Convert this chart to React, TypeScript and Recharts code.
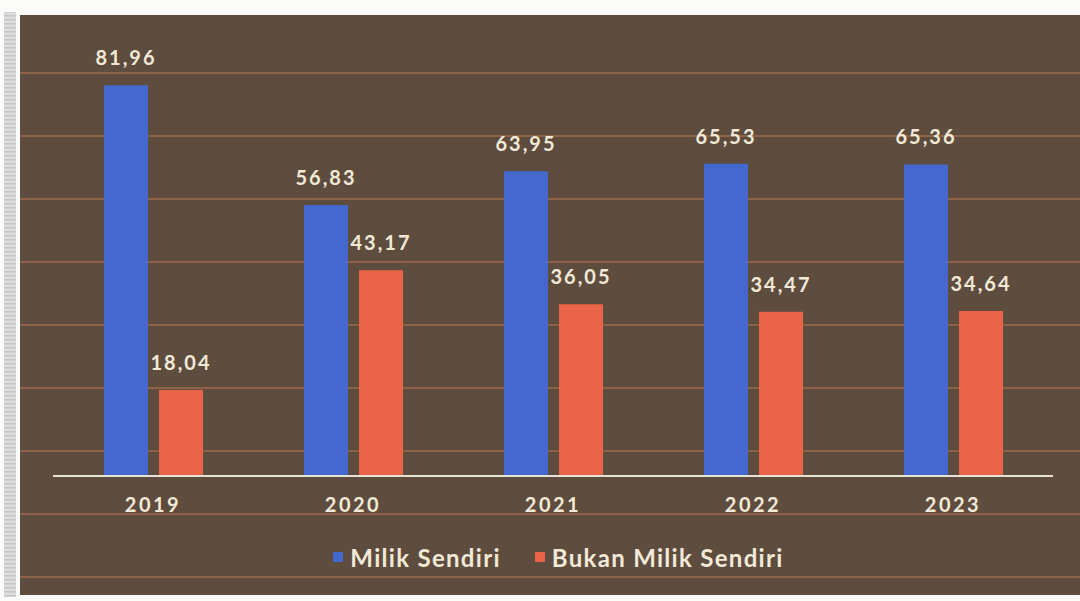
import React from 'react';
import { Bar, BarChart, LabelList, Legend, XAxis, YAxis } from 'recharts';

const years = ['2019', '2020', '2021', '2022', '2023'];
const milikSendiri = [81.96, 56.83, 63.95, 65.53, 65.36];
const bukanMilikSendiri = [18.04, 43.17, 36.05, 34.47, 34.64];

const data = years.map((year, i) => ({
  year,
  milik: milikSendiri[i],
  bukan: bukanMilikSendiri[i],
}));

const BLUE = '#4468cd';
const RED = '#ea644a';
const CREAM = '#f2e9d6';
const FONT = 'Lato, "Open Sans", sans-serif';

const fmt = (v: any) => Number(v).toFixed(2).replace('.', ',');

function LegendContent() {
  const items = [
    { label: 'Milik Sendiri', color: BLUE },
    { label: 'Bukan Milik Sendiri', color: RED },
  ];
  return (
    <div
      style={{
        display: 'flex',
        justifyContent: 'center',
        alignItems: 'center',
        height: 30,
        gap: 34,
        paddingLeft: 17,
        fontFamily: FONT,
        fontWeight: 700,
        fontSize: 24,
        letterSpacing: 1.3,
        color: CREAM,
      }}
    >
      {items.map((it) => (
        <div key={it.label} style={{ display: 'flex', alignItems: 'center' }}>
          <span
            style={{
              display: 'inline-block',
              width: 10,
              height: 10,
              background: it.color,
              marginRight: 7,
            }}
          />
          <span>{it.label}</span>
        </div>
      ))}
    </div>
  );
}

export default function App() {
  return (
    <div
      style={{
        position: 'absolute',
        left: 0,
        top: 0,
        width: 1080,
        height: 601,
        background: '#fbfbfa',
        overflow: 'hidden',
      }}
    >
      <div
        style={{
          position: 'absolute',
          left: 4,
          top: 12,
          width: 12,
          height: 585,
          background: 'repeating-linear-gradient(to bottom, #c9c9c9 0px, #e6e6e6 2px, #bdbdbd 4px)',
        }}
      />
      <div
        style={{
          position: 'absolute',
          left: 20,
          top: 15,
          width: 1060,
          height: 580,
          backgroundColor: '#5e4c3f',
          backgroundImage:
            'repeating-linear-gradient(to bottom, transparent 0px, transparent 57px, #8f6146 57px, #8f6146 59px, transparent 59px, transparent 63px)',
        }}
      >
        <BarChart
          width={1060}
          height={580}
          data={data}
          margin={{ top: 32, right: 27, bottom: 79, left: 33 }}
          barSize={44}
          barGap={11}
        >
          <XAxis
            dataKey="year"
            height={40}
            axisLine={{ stroke: '#e9e3d6', strokeWidth: 2 }}
            tickLine={false}
            tickSize={0}
            tickMargin={22}
            tick={{ fill: CREAM, fontSize: 20, fontFamily: FONT, fontWeight: 700, letterSpacing: 2.5 }}
          />
          <YAxis hide domain={[0, 90]} />
          <Legend
            layout="horizontal"
            verticalAlign="middle"
            align="center"
            content={<LegendContent />}
            wrapperStyle={{ top: 527, left: 0, width: 1060, height: 30 }}
          />
          <Bar dataKey="milik" name="Milik Sendiri" fill={BLUE} isAnimationActive={false}>
            <LabelList
              dataKey="milik"
              position="top"
              offset={20}
              formatter={fmt}
              fill={CREAM}
              fontSize={20}
              fontFamily={FONT}
              fontWeight={700}
              letterSpacing={2}
            />
          </Bar>
          <Bar dataKey="bukan" name="Bukan Milik Sendiri" fill={RED} isAnimationActive={false}>
            <LabelList
              dataKey="bukan"
              position="top"
              offset={20}
              formatter={fmt}
              fill={CREAM}
              fontSize={20}
              fontFamily={FONT}
              fontWeight={700}
              letterSpacing={2}
            />
          </Bar>
        </BarChart>
      </div>
    </div>
  );
}
